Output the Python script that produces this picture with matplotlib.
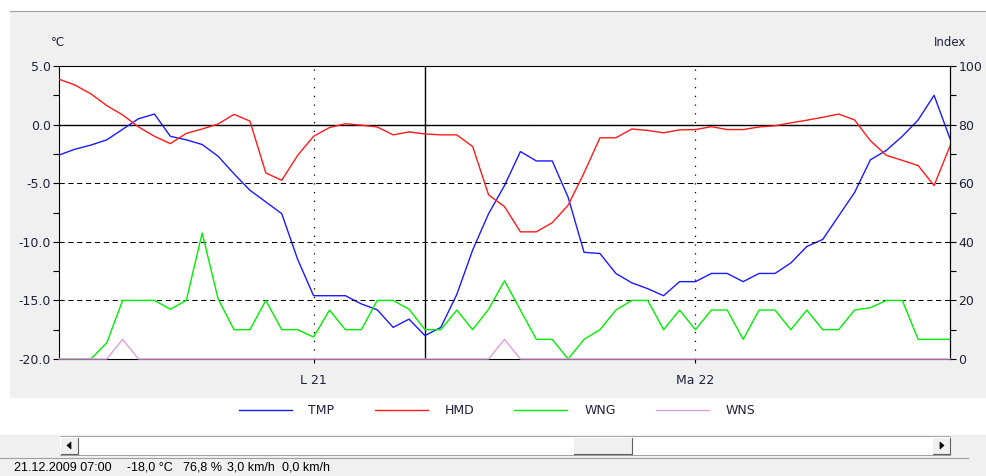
import matplotlib
matplotlib.use('Agg')
import matplotlib.pyplot as plt
from matplotlib.patches import Rectangle, Polygon
from matplotlib.lines import Line2D

W, H = 986, 476

# hourly samples starting 20.12.2009 08:00
hours = list(range(57))
tmp = [-2.6, -2.1, -1.75, -1.3, -0.4, 0.5, 0.9, -1.0, -1.3, -1.7,
       -2.7, -4.2, -5.6, -6.6, -7.6, -11.5, -14.6, -14.6, -14.6, -15.3,
       -15.8, -17.3, -16.6, -18.0, -17.3, -14.5, -10.7, -7.6, -5.2, -2.3,
       -3.1, -3.1, -6.2, -10.9, -11.0, -12.7, -13.5, -14.0, -14.6, -13.4,
       -13.4, -12.7, -12.7, -13.4, -12.7, -12.7, -11.8, -10.4, -9.8, -7.8,
       -5.8, -3.0, -2.2, -1.0, 0.4, 2.5, -1.2]
hmd = [95.5, 93.5, 90.5, 86.5, 83.3, 79.2, 76.0, 73.5, 77.0, 78.5,
       80.2, 83.5, 81.2, 63.5, 61.0, 69.5, 76.0, 79.0, 80.3, 79.8,
       79.2, 76.5, 77.5, 76.8, 76.5, 76.5, 72.5, 56.0, 52.0, 43.4,
       43.4, 46.5, 52.5, 63.5, 75.5, 75.5, 78.5, 78.0, 77.2, 78.2,
       78.3, 79.3, 78.3, 78.3, 79.2, 79.6, 80.6, 81.5, 82.5, 83.6,
       81.6, 74.5, 69.5, 67.8, 66.0, 59.2, 72.7]
wng = [0, 0, 0, 5.5, 20, 20, 20, 17, 20, 43,
       20.5, 10, 10, 20, 10, 10, 7.5, 16.7, 10, 10,
       20, 20, 17, 10, 10, 16.7, 10, 17, 26.7, 16.7,
       6.7, 6.7, 0, 6.7, 10, 16.7, 20, 20, 10, 16.7,
       10, 16.7, 16.7, 6.7, 16.7, 16.7, 10, 16.7, 10, 10,
       16.7, 17.5, 20, 20, 6.7, 6.7, 6.7]
wns = [0, 0, 0, 0, 6.7, 0, 0, 0, 0, 0,
       0, 0, 0, 0, 0, 0, 0, 0, 0, 0,
       0, 0, 0, 0, 0, 0, 0, 0, 6.7, 0,
       0, 0, 0, 0, 0, 0, 0, 0, 0, 0,
       0, 0, 0, 0, 0, 0, 0, 0, 0, 0,
       0, 0, 0, 0, 0, 0, 0]
series_names = ['TMP', 'HMD', 'WNG', 'WNS']
day_ticks = [16, 40]
day_labels = ['L 21', 'Ma 22']
cursor_hour = 23
temp_ticks = [-20.0, -15.0, -10.0, -5.0, 0.0, 5.0]
index_ticks = [0, 20, 40, 60, 80, 100]
status_items = ['21.12.2009 07:00', '-18,0 °C', '76,8 %', '3,0 km/h', '0,0 km/h']

TXT = '#20203a'
plt.rcParams['font.family'] = ['DejaVu Sans']

fig = plt.figure(figsize=(W / 100, H / 100), dpi=100)
fig.patch.set_facecolor('white')


def rect(x0, y0, x1, y1, fc, ec='none', lw=0, z=0):
    r = Rectangle((x0 / W, 1 - y1 / H), (x1 - x0) / W, (y1 - y0) / H,
                  transform=fig.transFigure, facecolor=fc, edgecolor=ec,
                  linewidth=lw, zorder=z)
    fig.add_artist(r)


def hline(x0, x1, y, c, lw=1.0, z=1):
    fig.add_artist(Line2D([x0 / W, x1 / W], [1 - y / H, 1 - y / H],
                          transform=fig.transFigure, color=c, lw=lw, zorder=z))


def vline(x, y0, y1, c, lw=1.0, z=1):
    fig.add_artist(Line2D([x / W, x / W], [1 - y0 / H, 1 - y1 / H],
                          transform=fig.transFigure, color=c, lw=lw, zorder=z))


# window panels
rect(10, 11, W, 398, '#f0f0f0')
hline(10, W, 11, '#a0a0a0', 0.8)
rect(10, 398, W, 435, 'white')
rect(0, 435, W, H, '#f0f0f0')
hline(0, 968, 458, '#a0a0a0', 0.8)

# scrollbar
rect(60, 436, 950, 455, 'white', '#a0a0a0', 0.7, z=1)
for (bx0, bx1) in [(60, 78), (932, 950), (573, 632)]:
    rect(bx0, 437, bx1, 454, '#f0f0f0', 'none', 0, z=2)
    hline(bx0, bx1, 454, '#606060', 0.8, z=3)
    vline(bx1, 437, 454, '#606060', 0.8, z=3)
    hline(bx0, bx1, 437, 'white', 0.8, z=3)
    vline(bx0, 437, 454, 'white', 0.8, z=3)
fig.add_artist(Polygon([[71 / W, 1 - 442 / H], [71 / W, 1 - 449 / H], [67 / W, 1 - 445.5 / H]],
                       closed=True, transform=fig.transFigure, facecolor='black',
                       edgecolor='black', lw=0.5, zorder=4))
fig.add_artist(Polygon([[940 / W, 1 - 442 / H], [940 / W, 1 - 449 / H], [944 / W, 1 - 445.5 / H]],
                       closed=True, transform=fig.transFigure, facecolor='black',
                       edgecolor='black', lw=0.5, zorder=4))

# status bar
status_x = [14, 127, 183, 227, 282]
for sx, s in zip(status_x, status_items):
    fig.text(sx / W, 1 - 468 / H, s, fontsize=9, color='black', va='center', ha='left',
             family=['Liberation Sans', 'DejaVu Sans'])

# main axes
ax = fig.add_axes([59 / W, 1 - 359 / H, (950 - 59) / W, (359 - 66) / H])
ax.set_facecolor('white')
ax.set_xlim(hours[0], hours[-1])
ax.set_ylim(-20, 5)
ax2 = ax.twinx()
ax2.set_ylim(0, 100)

for a in (ax, ax2):
    for sp in a.spines.values():
        sp.set_color('black')
        sp.set_linewidth(0.8)
ax2.spines['bottom'].set_visible(False)
ax2.spines['top'].set_visible(False)
ax2.spines['left'].set_visible(False)

# grid / reference lines
for v in index_ticks[1:-1]:
    ax2.axhline(v, color='black', lw=0.75, ls=(0, (5, 3.5)), zorder=1)
ax.axhline(0, color='black', lw=1.0, zorder=1.5)
for d in day_ticks:
    ax.axvline(d, color='black', lw=0.9, ls=(0, (1, 6)), zorder=1)
ax.axvline(cursor_hour, color='black', lw=1.0, zorder=1.5)

# data
l_tmp, = ax.plot(hours, tmp, color='#1a1aff', lw=1.0, zorder=3)
l_wng, = ax2.plot(hours, wng, color='#00ee00', lw=1.0, zorder=2)
l_wns, = ax2.plot(hours, wns, color='#dda0dd', lw=1.0, zorder=3, clip_on=False)
l_hmd, = ax2.plot(hours, hmd, color='#ff1a1a', lw=1.0, zorder=3)

# ticks
ax.set_yticks(temp_ticks)
ax.set_yticklabels([f'{v:.1f}' for v in temp_ticks])
ax.set_yticks([v + 2.5 for v in temp_ticks[:-1]], minor=True)
ax.tick_params(axis='y', which='both', direction='out', length=4, width=0.8,
               labelsize=9, labelcolor=TXT, pad=2)
ax2.set_yticks(index_ticks)
ax2.set_yticks([v + 10 for v in index_ticks[:-1]], minor=True)
ax2.tick_params(axis='y', which='both', direction='out', length=4, width=0.8,
                labelsize=9, labelcolor=TXT, pad=2)
ax.set_xticks(day_ticks)
ax.set_xticklabels(day_labels)
ax.tick_params(axis='x', direction='out', length=3, width=0.8, labelsize=9,
               labelcolor=TXT, pad=8)

fig.text(58 / W, 1 - 42 / H, '°C', fontsize=8.5, color=TXT, ha='center', va='center')
fig.text(950 / W, 1 - 42 / H, 'Index', fontsize=8.5, color=TXT, ha='center', va='center')

fig.legend([l_tmp, l_hmd, l_wng, l_wns], series_names, loc='center',
           bbox_to_anchor=(497 / W, 1 - 411 / H), ncol=4, frameon=False,
           fontsize=9, handlelength=4.25, handletextpad=1.35, columnspacing=3.2,
           labelcolor=TXT, borderpad=0)

fig.savefig('out.png', dpi=100, facecolor=fig.get_facecolor())
